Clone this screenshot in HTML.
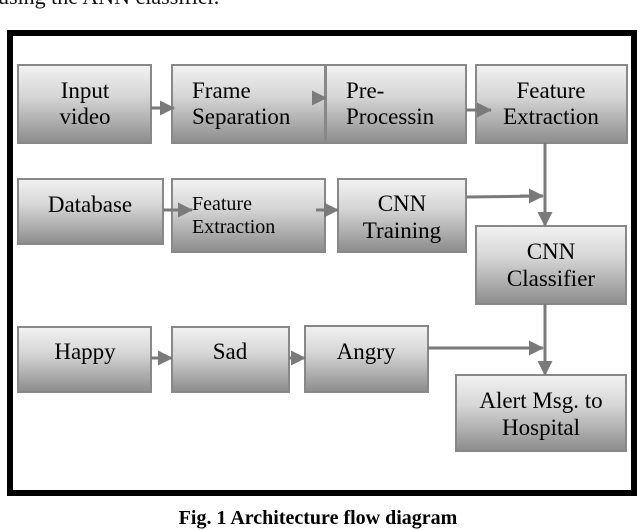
<!DOCTYPE html>
<html><head><style>
html,body{margin:0;padding:0;background:#fff;width:640px;height:530px;overflow:hidden}
</style></head><body>
<svg width="640" height="530" viewBox="0 0 640 530" xmlns="http://www.w3.org/2000/svg" font-family="Liberation Serif, serif">
<defs>
<linearGradient id="g" x1="0" y1="0" x2="0" y2="1">
<stop offset="0" stop-color="#f2f2f2"/>
<stop offset="0.4" stop-color="#d6d6d6"/>
<stop offset="1" stop-color="#8c8c8c"/>
</linearGradient>
<marker id="a" markerWidth="15" markerHeight="15" refX="14" refY="7.5" orient="auto" markerUnits="userSpaceOnUse">
<path d="M0,0 L15,7.5 L0,15 z" fill="#7a7a7a"/>
</marker>
</defs>
<text x="-2" y="4" font-size="22" fill="#111">using the ANN classifier.</text>
<rect x="10" y="33" width="624" height="460" fill="none" stroke="#000" stroke-width="6"/>
<g fill="url(#g)" stroke="#888" stroke-width="2">
<rect x="18" y="65" width="133" height="78"/>
<rect x="172" y="65" width="153" height="78"/>
<rect x="326" y="65" width="140" height="78"/>
<rect x="476" y="65" width="151" height="78"/>
<rect x="18" y="179" width="145" height="65"/>
<rect x="172" y="179" width="153" height="73"/>
<rect x="338" y="179" width="128" height="73"/>
<rect x="476" y="226" width="150" height="78"/>
<rect x="18" y="327" width="133" height="65"/>
<rect x="172" y="327" width="117" height="65"/>
<rect x="305" y="326" width="123" height="66"/>
<rect x="456" y="375" width="170" height="76"/>
</g>
<g stroke="#7a7a7a" stroke-width="3" fill="none">
<line x1="151" y1="108" x2="174" y2="108" marker-end="url(#a)"/>
<line x1="312" y1="98" x2="326" y2="98" marker-end="url(#a)"/>
<line x1="466" y1="110" x2="491" y2="110" marker-end="url(#a)"/>
<line x1="163" y1="210" x2="192" y2="210" marker-end="url(#a)"/>
<line x1="316" y1="210" x2="338" y2="210" marker-end="url(#a)"/>
<polyline points="466,197 543,196"/>
<line x1="520" y1="196" x2="543" y2="196" marker-end="url(#a)"/>
<line x1="545" y1="143" x2="545" y2="226" marker-end="url(#a)"/>
<line x1="151" y1="358" x2="172" y2="358" marker-end="url(#a)"/>
<line x1="289" y1="358" x2="305" y2="358" marker-end="url(#a)"/>
<line x1="428" y1="348" x2="543" y2="348" marker-end="url(#a)"/>
<line x1="545" y1="304" x2="545" y2="375" marker-end="url(#a)"/>
</g>
<g font-size="23" fill="#000" text-anchor="middle">
<text x="85" y="98">Input</text><text x="85" y="124">video</text>
<text x="192" y="98" text-anchor="start">Frame</text><text x="192" y="124" text-anchor="start">Separation</text>
<text x="346" y="98" text-anchor="start">Pre-</text><text x="346" y="124" text-anchor="start">Processin</text>
<text x="551" y="98">Feature</text><text x="551" y="124">Extraction</text>
<text x="90" y="212">Database</text>
<text x="192" y="210" text-anchor="start" font-size="20">Feature</text><text x="192" y="233" text-anchor="start" font-size="20">Extraction</text>
<text x="402" y="211">CNN</text><text x="402" y="238">Training</text>
<text x="551" y="259">CNN</text><text x="551" y="286">Classifier</text>
<text x="85" y="359">Happy</text>
<text x="230" y="359">Sad</text>
<text x="366" y="359">Angry</text>
<text x="541" y="408">Alert Msg. to</text><text x="541" y="435">Hospital</text>
</g>
<text x="318" y="524" font-size="20" font-weight="bold" text-anchor="middle" fill="#000">Fig. 1 Architecture flow diagram</text>
</svg>
</body></html>
